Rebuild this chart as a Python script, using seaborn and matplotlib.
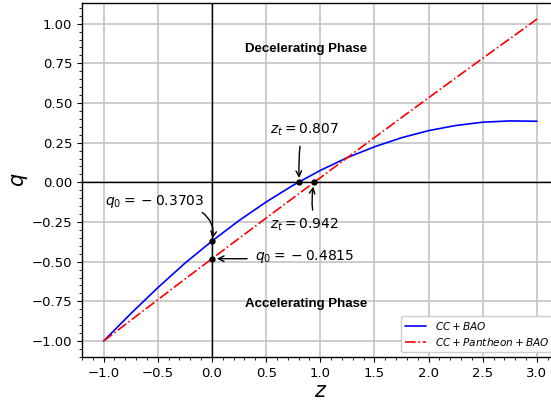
import numpy as np
import pandas as pd
import matplotlib
matplotlib.use("Agg")
import matplotlib.pyplot as plt
import seaborn as sns
from matplotlib.ticker import AutoMinorLocator

# redshift grid and deceleration parameter
z_vals = [-1.0, -0.75, -0.5, -0.25, 0.0, 0.25, 0.5, 0.75, 1.0,
          1.25, 1.5, 1.75, 2.0, 2.25, 2.5, 2.75, 3.0]
q_cc_bao = [-1.000, -0.828, -0.664, -0.510, -0.370, -0.241, -0.124, -0.018, 0.075,
            0.156, 0.224, 0.281, 0.326, 0.358, 0.379, 0.387, 0.385]
q_cc_pan_bao = [-1.000, -0.870, -0.740, -0.610, -0.4815, -0.353, -0.225, -0.098, 0.029,
                0.156, 0.282, 0.408, 0.533, 0.658, 0.782, 0.905, 1.029]

q0_vals = [-0.3703, -0.4815]
zt_vals = [0.807, 0.942]

df = pd.DataFrame({"z": z_vals, "q1": q_cc_bao, "q2": q_cc_pan_bao})

sns.set_style("ticks")
plt.rcParams['font.family'] = ['DejaVu Sans']
plt.rcParams['mathtext.fontset'] = 'dejavusans'
plt.rcParams['text.color'] = 'black'
plt.rcParams['axes.labelcolor'] = 'black'
plt.rcParams['xtick.color'] = 'black'
plt.rcParams['ytick.color'] = 'black'

fig = plt.figure(figsize=(5.51, 4.04), dpi=100)
ax = fig.add_axes([0.1488, 0.1163, 0.865, 0.8762])

sns.lineplot(data=df, x="z", y="q1", ax=ax, color="blue", lw=1.2, label=r"$CC+BAO$")
sns.lineplot(data=df, x="z", y="q2", ax=ax, color="red", lw=1.2, linestyle="-.",
             label=r"$CC+Pantheon+BAO$")

ax.axhline(0, color="black", lw=1)
ax.axvline(0, color="black", lw=1)
ax.grid(True, color="#c4c4c4", lw=1.2)
ax.set_axisbelow(True)

ax.set_xlim(-1.2, 3.2)
ax.set_ylim(-1.101, 1.130)
ax.set_xticks([-1.0, -0.5, 0.0, 0.5, 1.0, 1.5, 2.0, 2.5, 3.0])
ax.set_yticks([-1.0, -0.75, -0.5, -0.25, 0.0, 0.25, 0.5, 0.75, 1.0])
ax.xaxis.set_minor_locator(AutoMinorLocator(5))
ax.yaxis.set_minor_locator(AutoMinorLocator(5))
ax.tick_params(labelsize=9.5)
for s in ax.spines.values():
    s.set_color("black")
    s.set_linewidth(1)

ax.set_xlabel(r"$z$", fontsize=15, labelpad=1)
ax.set_ylabel(r"$q$", fontsize=15, labelpad=1)

# transition / present-day points
ax.plot([0, 0], q0_vals, "o", color="black", ms=3.5)
ax.plot(zt_vals, [0, 0], "o", color="black", ms=3.5)

arr = dict(arrowstyle="->", color="black", lw=1)
ax.text(-0.526, -0.12, r"$q_0 = \:-\:0.3703$", ha="center", va="center", fontsize=10)
ax.annotate("", xy=(0, q0_vals[0]), xytext=(-0.11, -0.18),
            arrowprops=dict(arr, connectionstyle="arc3,rad=-0.35"))
ax.text(0.40, -0.469, r"$q_0 = \:-\:0.4815$", ha="left", va="center", fontsize=10)
ax.annotate("", xy=(0.02, q0_vals[1]), xytext=(0.35, q0_vals[1]), arrowprops=arr)
ax.text(0.849, 0.333, r"$z_t = 0.807$", ha="center", va="center", fontsize=10)
ax.annotate("", xy=(zt_vals[0], 0.01), xytext=(0.816, 0.245),
            arrowprops=dict(arr, connectionstyle="arc3,rad=0.05"))
ax.text(0.849, -0.265, r"$z_t = 0.942$", ha="center", va="center", fontsize=10)
ax.annotate("", xy=(zt_vals[1], -0.01), xytext=(0.933, -0.192),
            arrowprops=dict(arr, connectionstyle="arc3,rad=-0.1"))

ax.text(0.872, 0.843, "Decelerating Phase", ha="center", va="center",
        fontsize=9.5, fontweight="bold", family=["Liberation Sans"])
ax.text(0.872, -0.767, "Accelerating Phase", ha="center", va="center",
        fontsize=9.5, fontweight="bold", family=["Liberation Sans"])

ax.legend(loc="lower right", fontsize=7.6, frameon=True, fancybox=True,
          edgecolor="#cccccc", framealpha=1, labelspacing=0.35)

fig.savefig("out.png", dpi=100)
